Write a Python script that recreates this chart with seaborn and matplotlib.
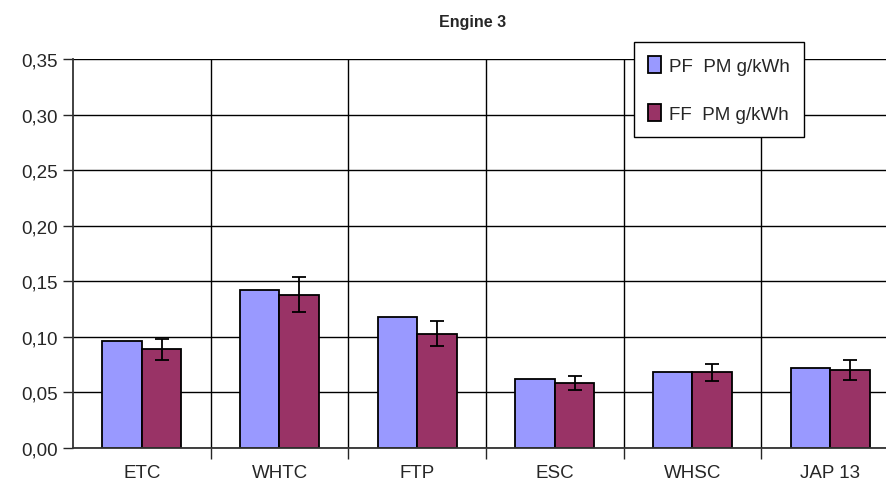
import matplotlib

matplotlib.use("Agg")
import matplotlib.pyplot as plt
import numpy as np
import pandas as pd
import seaborn as sns
from matplotlib.ticker import FixedLocator, FuncFormatter

cycles = ["ETC", "WHTC", "FTP", "ESC", "WHSC", "JAP 13"]
pf_pm = [0.0966, 0.142, 0.1176, 0.0621, 0.068, 0.072]
ff_pm = [0.089, 0.138, 0.1029, 0.0585, 0.068, 0.0702]
ff_err = [0.0095, 0.016, 0.0114, 0.006, 0.0078, 0.0087]
series = ["PF  PM g/kWh", "FF  PM g/kWh"]
colors = ["#9999FF", "#993366"]

df = pd.DataFrame(
    {
        "cycle": cycles * 2,
        "pm": pf_pm + ff_pm,
        "series": [series[0]] * len(cycles) + [series[1]] * len(cycles),
    }
)

sns.set_style("white")
plt.rcParams["font.family"] = ["Liberation Sans Narrow", "Liberation Sans", "DejaVu Sans"]

fig = plt.figure(figsize=(8.86, 5.02), dpi=100)
ax = fig.add_axes([73 / 886, 1 - 449 / 502, (899 - 73) / 886, (449 - 60) / 502])

sns.barplot(
    data=df,
    x="cycle",
    y="pm",
    hue="series",
    palette=colors,
    errorbar=None,
    width=0.574,
    edgecolor="black",
    linewidth=1.3,
    saturation=1,
    ax=ax,
)

# error bars only on the FF series, centred on its bars
ff_bars = ax.containers[1]
xs = [p.get_x() + p.get_width() / 2 for p in ff_bars]
ax.errorbar(xs, ff_pm, yerr=ff_err, fmt="none", ecolor="black", elinewidth=1.3, capsize=5, capthick=1.3, zorder=5)

ax.set_xlim(-0.5, len(cycles) - 0.5)
ax.set_ylim(0, 0.35)
ax.set_yticks(np.arange(0, 0.351, 0.05))
ax.yaxis.set_major_formatter(FuncFormatter(lambda v, _: f"{v:.2f}".replace(".", ",")))
ax.yaxis.grid(True, color="black", linewidth=1)
ax.xaxis.set_minor_locator(FixedLocator(np.arange(0.5, len(cycles) - 0.5, 1)))
ax.xaxis.grid(True, which="minor", color="black", linewidth=1)
ax.set_axisbelow(True)

ax.tick_params(axis="y", left=True, length=7, width=1, labelsize=13.5, pad=4)
ax.tick_params(axis="x", which="major", bottom=False, labelsize=13.5, pad=8)
ax.tick_params(axis="x", which="minor", bottom=True, length=8, width=1)
ax.set_xlabel("")
ax.set_ylabel("")
for side in ["top", "right"]:
    ax.spines[side].set_visible(False)
for side in ["left", "bottom"]:
    ax.spines[side].set_color("#333333")
    ax.spines[side].set_linewidth(1.3)

fig.text(473 / 886, 1 - 22 / 502, "Engine 3", ha="center", va="center", fontsize=11.5, fontweight="bold")

handles, labels = ax.get_legend_handles_labels()
leg = ax.legend(
    handles,
    labels,
    loc="upper left",
    bbox_to_anchor=(634 / 886, 1 - 43 / 502),
    bbox_transform=fig.transFigure,
    fontsize=13.5,
    frameon=True,
    fancybox=False,
    edgecolor="black",
    handlelength=0.7,
    handleheight=1.0,
    handletextpad=0.4,
    labelspacing=1.55,
    borderpad=0.75,
    borderaxespad=0,
)
leg.get_frame().set_linewidth(1)
leg.get_frame().set_alpha(1)

fig.savefig("out.png", dpi=100)
